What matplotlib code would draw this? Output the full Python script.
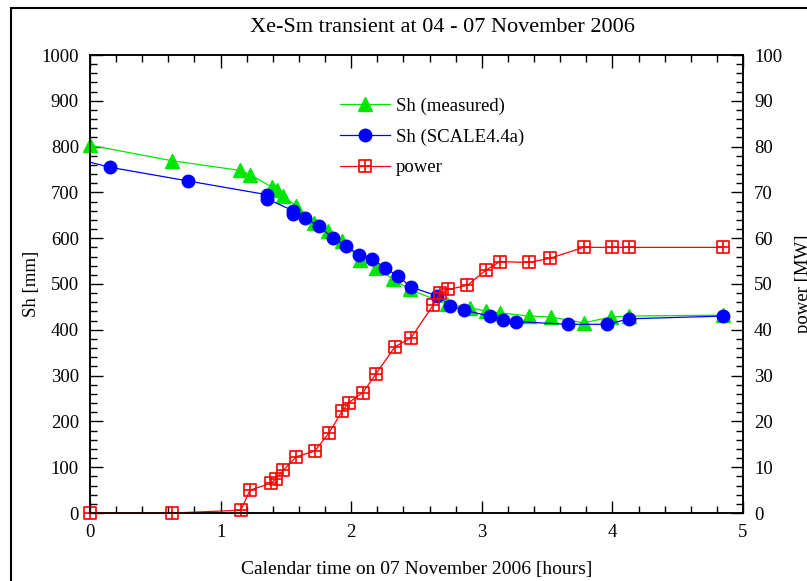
import numpy as np
import matplotlib.pyplot as plt
from matplotlib.path import Path
from matplotlib.patches import Rectangle

plt.rcParams['font.family'] = ['Liberation Serif', 'DejaVu Serif']

# measured control rod position
t_meas = [0, 0.63, 1.15, 1.225, 1.39, 1.43, 1.48, 1.58, 1.715, 1.82, 1.93, 2.07, 2.19,
          2.32, 2.45, 2.73, 2.91, 3.03, 3.14, 3.36, 3.53, 3.78, 3.99, 4.13, 4.85]
sh_meas = [803, 769, 748, 739, 712, 705, 692, 670, 633, 616, 594, 553, 535,
           511, 488, 456, 448, 441, 437, 430, 428, 415, 428, 430, 432]

# SCALE4.4a calculation
t_calc = [0, 0.15, 0.75, 1.355, 1.355, 1.555, 1.555, 1.65, 1.75, 1.86, 1.96, 2.06, 2.16,
          2.26, 2.36, 2.46, 2.66, 2.76, 2.86, 3.06, 3.16, 3.26, 3.66, 3.96, 4.13, 4.85]
sh_calc = [766, 755, 725, 695, 686, 660, 653, 644, 626, 601, 583, 564, 555,
           535, 517, 493, 474, 453, 443, 430, 422, 418, 412, 412, 424, 430]

# reactor power
t_pow = [0, 0.63, 1.155, 1.225, 1.385, 1.425, 1.48, 1.58, 1.72, 1.83, 1.93, 1.98, 2.09,
         2.19, 2.335, 2.46, 2.63, 2.68, 2.74, 2.89, 3.03, 3.14, 3.36, 3.52, 3.78, 4.0,
         4.13, 4.85]
power = [0, 0, 0.6, 5.0, 6.5, 7.5, 9.3, 12.3, 13.5, 17.5, 22.2, 24.1, 26.3,
         30.4, 36.3, 38.3, 45.5, 48.0, 48.8, 49.7, 53.0, 54.9, 54.7, 55.6, 58, 58,
         58, 58]

# square with a cross inside
sq_plus = Path([(-1, -1), (1, -1), (1, 1), (-1, 1), (-1, -1),
                (0, -1), (0, 1), (-1, 0), (1, 0)],
               [Path.MOVETO, Path.LINETO, Path.LINETO, Path.LINETO, Path.CLOSEPOLY,
                Path.MOVETO, Path.LINETO, Path.MOVETO, Path.LINETO])

fs = 13.5
fig = plt.figure(figsize=(8.07, 5.81), dpi=100)
ax = fig.add_axes([90/807, 1-513/581, (743-90)/807, (513-55)/581])
ax2 = ax.twinx()

l1, = ax.plot(t_meas, sh_meas, color='#00e600', lw=0.9, marker='^', ms=9.5,
              mec='#00e600', mfc='#00e600', label='Sh (measured)', clip_on=False, zorder=3)
l2, = ax.plot(t_calc, sh_calc, color='#0000ff', lw=0.9, marker='o', ms=9,
              markevery=list(range(1, len(t_calc))), label='Sh (SCALE4.4a)',
              clip_on=False, zorder=4)
l3, = ax2.plot(t_pow, power, color='#ff0000', lw=0.9, marker=sq_plus, ms=8.5,
               mfc='none', mec='#ff0000', mew=1.2, label='power', clip_on=False)

ax.set_xlim(0, 5)
ax.set_ylim(0, 1000)
ax2.set_ylim(0, 100)
ax.set_xticks(np.arange(0, 6, 1))
ax.set_xticks(np.arange(0, 5.01, 0.2), minor=True)
ax.set_yticks(np.arange(0, 1001, 100))
ax.set_yticks(np.arange(0, 1001, 20), minor=True)
ax2.set_yticks(np.arange(0, 101, 10))
ax2.set_yticks(np.arange(0, 101, 2), minor=True)

ax.tick_params(which='both', direction='in', top=True, right=False, labelsize=fs, pad=8)
ax.tick_params(which='major', length=9, width=1)
ax.tick_params(which='minor', length=5, width=1)
ax2.tick_params(which='both', direction='in', labelsize=fs, pad=8)
ax2.tick_params(which='major', length=9, width=1)
ax2.tick_params(which='minor', length=5, width=1)
for a in (ax, ax2):
    for s in a.spines.values():
        s.set_linewidth(1.1)

ax.set_xlabel('Calendar time on 07 November 2006 [hours]', fontsize=14, labelpad=14)
ax.set_ylabel('Sh [mm]', fontsize=fs, labelpad=1)
ax2.set_ylabel('power [MW]', fontsize=fs, rotation=90, labelpad=9)

fig.text(442/807, 1-27/581, 'Xe-Sm transient at 04 - 07 November 2006',
         fontsize=16, ha='center', va='center')

ax2.legend(handles=[l1, l2, l3], loc='upper left', bbox_to_anchor=(332/807, 1-90/581),
           bbox_transform=fig.transFigure, frameon=False, fontsize=fs,
           handlelength=2.7, handletextpad=0.3, labelspacing=0.72, borderaxespad=0)

# outer frame around the figure
fig.patches.append(Rectangle((11/807, -1), 2, 1 + (1 - 8/581), transform=fig.transFigure,
                             fill=False, lw=1.5, ec='black', clip_on=False))

fig.savefig('out.png', dpi=100)
